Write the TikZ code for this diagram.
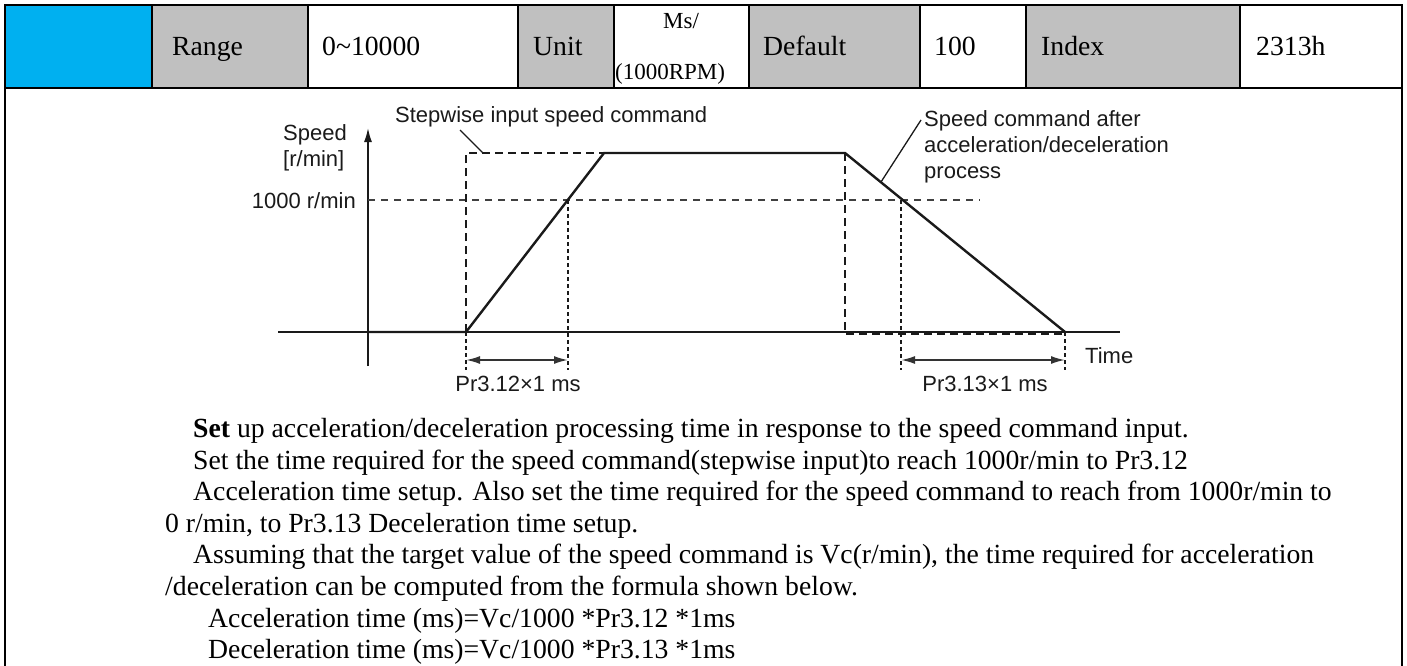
\documentclass[tikz,border=0pt]{standalone}
\usepackage{fontspec}
\setmainfont{Liberation Serif}
\newfontfamily\diagfont{Liberation Sans}
\usetikzlibrary{arrows.meta}
\definecolor{cellblue}{HTML}{00B0F0}
\definecolor{cellgray}{HTML}{C0C0C0}
\definecolor{ink}{HTML}{1A1A1A}
\begin{document}
\begin{tikzpicture}[x=1pt,y=-1pt,
  grid/.style={line width=2pt,black},
  celltext/.style={anchor=base west,inner sep=0pt,font=\fontsize{27.7}{31}\selectfont},
  smallcell/.style={inner sep=0pt,font=\fontsize{23}{26}\selectfont},
  bodytext/.style={anchor=base west,inner sep=0pt,font=\fontsize{27.7}{31}\selectfont},
  lbl/.style={inner sep=0pt,text=ink,font=\diagfont\fontsize{22}{26}\selectfont},
  axis/.style={line width=1.6pt,ink},
  profile/.style={line width=2.4pt,ink,line join=miter},
  stepdash/.style={line width=2.4pt,ink,dash pattern=on 8pt off 5pt},
  refdash/.style={line width=1.3pt,black!75,dash pattern=on 7pt off 6pt},
  dotv/.style={line width=1.3pt,ink,dash pattern=on 4pt off 3pt},
  dimarrow/.style={line width=1.8pt,black!80,{Latex[length=14pt,width=8pt]}-{Latex[length=14pt,width=8pt]}},
  leader/.style={line width=1.3pt,ink}]
\useasboundingbox (0,0) rectangle (1407,666);
% ---------- table ----------
\fill[cellblue] (5,5) rectangle (152,88);
\fill[cellgray] (152,5) rectangle (308,88);
\fill[cellgray] (518,5) rectangle (614,88);
\fill[cellgray] (749,5) rectangle (920,88);
\fill[cellgray] (1026,5) rectangle (1240,88);
\draw[grid] (5,666) -- (5,5) -- (1402,5) -- (1402,666);
\draw[grid] (5,88) -- (1402,88);
\foreach \cx in {152,308,518,614,749,920,1026,1240} \draw[grid] (\cx,5) -- (\cx,88);
\node[celltext] (range) at (172,56) {Range};
\node[celltext] (rangev) at (322,56) {0\textasciitilde 10000};
\node[celltext] (unit) at (533,56) {Unit};
\node[smallcell,anchor=base] (unit1) at (681,29) {Ms/};
\node[smallcell,anchor=base west] (unit2) at (615,80) {(1000RPM)};
\node[celltext] (default) at (763,56) {Default};
\node[celltext] (defaultv) at (934,56) {100};
\node[celltext] (index) at (1041,56) {Index};
\node[celltext] (indexv) at (1256,56) {2313h};
% ---------- chart ----------
\coordinate (O) at (368,332);
\coordinate (Ytop) at (368,128);
\coordinate (Ybot) at (368,366);
\coordinate (Xl) at (278,332);
\coordinate (Xr) at (1120,332);
\coordinate (A) at (466,332);
\coordinate (S) at (466,153);
\coordinate (B) at (604,153);
\coordinate (C) at (845,153);
\coordinate (Cb) at (845,334);
\coordinate (Db) at (1065,334);
\coordinate (D) at (1065,332);
\coordinate (R0) at (368,200);
\coordinate (R1) at (980,200);
\coordinate (P) at (568,200);
\coordinate (Q) at (901,200);
\coordinate (Pd) at (568,370);
\coordinate (Qd) at (901,370);
\coordinate (Ad) at (466,370);
\coordinate (Dd) at (1065,370);
\coordinate (Pa) at (568,360);
\coordinate (Aa) at (466,360);
\coordinate (Qa) at (901,360);
\coordinate (Da) at (1065,360);
\draw[axis] (Xl) -- (Xr);
\draw[axis,-{Latex[length=14pt,width=8pt]}] (Ybot) -- (Ytop);
\draw[refdash] (R0) -- (R1);
\draw[dotv] (P) -- (Pd);
\draw[dotv] (Q) -- (Qd);
\draw[dotv] (A) -- (Ad);
\draw[dotv] (D) -- (Dd);
\draw[stepdash] (A) -- (S) -- (B);
\draw[stepdash] (C) -- (Cb) -- (Db);
\draw[profile] (O) -- (A) -- (B) -- (C) -- (D);
\draw[dimarrow] (Aa) -- (Pa);
\draw[dimarrow] (Qa) -- (Da);
\node[lbl,anchor=base west] (speed) at (283,140) {Speed};
\node[lbl,anchor=base west] (rmin) at (283,166) {[r/min]};
\node[lbl,anchor=base east] (k1000) at (356,208) {1000 r/min};
\node[lbl,anchor=base west] (stepwise) at (395,122) {Stepwise input speed command};
\node[lbl,anchor=base west] (after1) at (924,127) {Speed command after};
\node[lbl,anchor=base west] (after2) at (924,153) {acceleration/deceleration};
\node[lbl,anchor=base west] (after3) at (924,178) {process};
\node[lbl,anchor=base west] (time) at (1085,363) {Time};
\node[lbl,anchor=base] (pr312) at (518,391) {Pr3.12×1 ms};
\node[lbl,anchor=base] (pr313) at (985,391) {Pr3.13×1 ms};
\coordinate (L1a) at (460,130);
\coordinate (L1b) at (483,153);
\coordinate (L2a) at (921,120);
\coordinate (L2b) at (881,182);
\draw[leader] (L1a) -- (L1b);
\draw[leader] (L2a) -- (L2b);
% ---------- body text ----------
\node[bodytext] (t1) at (193,437) {\textbf{Set} up acceleration/deceleration processing time in response to the speed command input.};
\node[bodytext] (t2) at (193,469) {Set the time required for the speed command(stepwise input)to reach 1000r/min to Pr3.12};
\node[bodytext] (t3) at (193,500) {Acceleration time setup. Also set the time required for the speed command to reach from 1000r/min to};
\node[bodytext] (t4) at (165,532) {0 r/min, to Pr3.13 Deceleration time setup.};
\node[bodytext] (t5) at (193,563) {Assuming that the target value of the speed command is Vc(r/min), the time required for acceleration};
\node[bodytext] (t6) at (165,595) {/deceleration can be computed from the formula shown below.};
\node[bodytext] (t7) at (208,627) {Acceleration time (ms)=Vc/1000 *Pr3.12 *1ms};
\node[bodytext] (t8) at (208,658) {Deceleration time (ms)=Vc/1000 *Pr3.13 *1ms};
\end{tikzpicture}
\end{document}
